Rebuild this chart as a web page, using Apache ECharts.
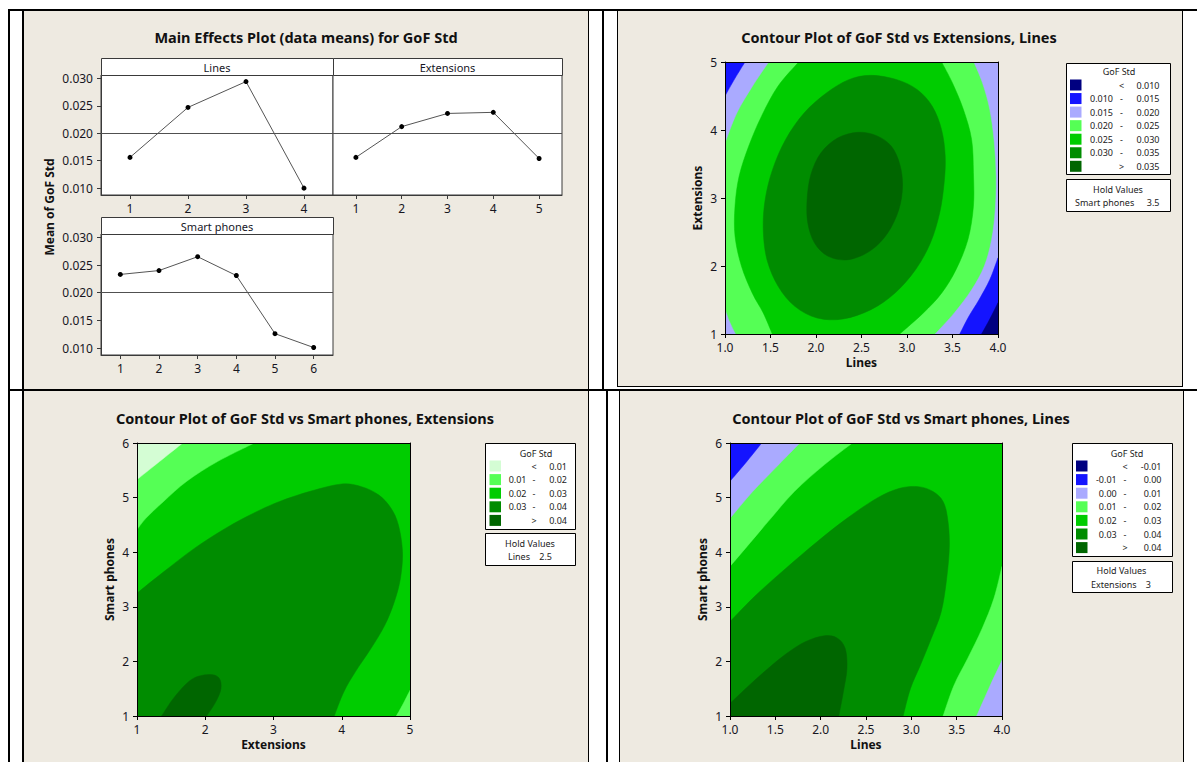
<!DOCTYPE html>
<html><head><meta charset="utf-8">
<script src="https://cdn.jsdelivr.net/npm/echarts@6/dist/echarts.min.js"></script>
<style>
html,body{margin:0;padding:0;background:#fff;}
#wrap{position:relative;width:1197px;height:762px;overflow:hidden;background:#fff;}
.b{position:absolute;background:#000;}
.p{position:absolute;background:#eeeae1;}
#chart{position:absolute;left:0;top:0;width:1197px;height:762px;}
</style></head><body>
<div id="wrap">
  <div class="p" style="left:24px;top:11px;width:564px;height:378px;"></div>
  <div class="p" style="left:618px;top:11px;width:564px;height:375px;"></div>
  <div class="p" style="left:24px;top:391px;width:564px;height:371px;"></div>
  <div class="p" style="left:620px;top:391px;width:563px;height:371px;"></div>
  <div class="b" style="left:8px;top:9px;width:1189px;height:2px;"></div>
  <div class="b" style="left:8px;top:9px;width:2px;height:753px;"></div>
  <div class="b" style="left:22px;top:9px;width:2px;height:753px;"></div>
  <div class="b" style="left:588px;top:11px;width:1px;height:378px;"></div>
  <div class="b" style="left:602px;top:11px;width:2px;height:378px;"></div>
  <div class="b" style="left:617px;top:11px;width:1px;height:376px;"></div>
  <div class="b" style="left:1182px;top:11px;width:1px;height:376px;"></div>
  <div class="b" style="left:617px;top:386px;width:566px;height:1px;"></div>
  <div class="b" style="left:8px;top:389px;width:1189px;height:2px;"></div>
  <div class="b" style="left:588px;top:391px;width:1px;height:371px;"></div>
  <div class="b" style="left:606px;top:391px;width:2px;height:371px;"></div>
  <div class="b" style="left:619px;top:391px;width:1px;height:371px;"></div>
  <div class="b" style="left:1183px;top:391px;width:1px;height:371px;"></div>
  <div id="chart"></div>
</div>
<script>
// ---------------- Main effects data ----------------
const LINES_LEVELS = ['1', '2', '3', '4'];
const LINES_MEANS = [0.0156, 0.0247, 0.0294, 0.0100];
const EXT_LEVELS = ['1', '2', '3', '4', '5'];
const EXT_MEANS = [0.0156, 0.0212, 0.0236, 0.0238, 0.0154];
const SP_LEVELS = ['1', '2', '3', '4', '5', '6'];
const SP_MEANS = [0.0233, 0.0240, 0.0265, 0.0231, 0.0126, 0.0101];
const GRAND_MEAN = 0.0199;
const MEAN_TICKS = [0.010, 0.015, 0.020, 0.025, 0.030];
const MEAN_RANGE = [0.00875, 0.0306];

// ---------------- Contour 1: Extensions vs Lines (Smart phones = 3.5) ----------------
const C1_X_RANGE = [1, 4];
const C1_Y_RANGE = [1, 5];
const C1_LEGEND = [['', '<', '0.010'], ['0.010', '-', '0.015'], ['0.015', '-', '0.020'], ['0.020', '-', '0.025'], ['0.025', '-', '0.030'], ['0.030', '-', '0.035'], ['', '>', '0.035']];
const C1_HOLD = ['Smart phones', '3.5'];
const C1_LAV_TL = [[1.48, 5], [1.30, 4.64], [1.13, 4.25], [1, 3.81]];
const C1_BLUE_TL = [[1.22, 5], [1.11, 4.76], [1, 4.50]];
const C1_LAV_BL = [[1, 1.36], [1.05, 1.18], [1.114, 1]];
const C1_LAV_R = [[3.735, 5], [3.83, 4.69], [3.91, 4.30], [3.96, 3.81], [3.98, 3.32], [3.97, 2.83], [3.93, 2.39], [3.85, 2.00], [3.71, 1.65], [3.52, 1.31], [3.31, 1]];
const C1_BLUE_BR = [[4, 2.12], [3.91, 1.80], [3.79, 1.50], [3.68, 1.26], [3.58, 1]];
const C1_NAVY_BR = [[4, 1.46], [3.91, 1.22], [3.82, 1]];
const C1_G25_L = [[1.81, 5], [1.58, 4.64], [1.40, 4.20], [1.26, 3.76], [1.155, 3.32], [1.11, 2.88], [1.11, 2.44], [1.18, 2.00], [1.30, 1.60], [1.42, 1.31], [1.52, 1]];
const C1_G25_R = [[2.92, 1], [3.18, 1.31], [3.38, 1.60], [3.54, 1.95], [3.67, 2.39], [3.73, 2.88], [3.73, 3.37], [3.71, 3.86], [3.62, 4.30], [3.50, 4.69], [3.38, 5]];
const C1_G30 = [[2.604, 4.804], [2.890, 4.740], [3.114, 4.593], [3.278, 4.348], [3.380, 4.005], [3.420, 3.613], [3.408, 3.221], [3.359, 2.779], [3.257, 2.338], [3.094, 1.946], [2.869, 1.603], [2.604, 1.358], [2.298, 1.221], [2.012, 1.235], [1.767, 1.407], [1.584, 1.701], [1.461, 2.093], [1.420, 2.534], [1.441, 2.975], [1.522, 3.417], [1.665, 3.858], [1.869, 4.250], [2.114, 4.544], [2.359, 4.740]];
const C1_G35 = [[2.461, 3.966], [2.665, 3.917], [2.829, 3.760], [2.922, 3.490], [2.951, 3.172], [2.910, 2.828], [2.788, 2.485], [2.604, 2.230], [2.359, 2.093], [2.135, 2.142], [1.984, 2.338], [1.910, 2.632], [1.902, 2.975], [1.943, 3.343], [2.053, 3.662], [2.237, 3.882]];

// ---------------- Contour 2: Smart phones vs Extensions (Lines = 2.5) ----------------
const C2_X_RANGE = [1, 5];
const C2_Y_RANGE = [1, 6];
const C2_LEGEND = [['', '<', '0.01'], ['0.01', '-', '0.02'], ['0.02', '-', '0.03'], ['0.03', '-', '0.04'], ['', '>', '0.04']];
const C2_HOLD = ['Lines', '2.5'];
const C2_G10_TL = [[2.72, 6], [2.18, 5.66], [1.73, 5.30], [1.39, 4.93], [1.13, 4.62], [1, 4.41]];
const C2_G10_BR = [[5, 1.47], [4.89, 1.20], [4.80, 1]];
const C2_G00_TL = [[1.67, 6], [1.33, 5.66], [1, 5.33]];
const C2_G30 = [[1, 3.25], [1.39, 3.64], [1.84, 4.07], [2.30, 4.44], [2.70, 4.71], [3.09, 4.93], [3.55, 5.12], [4.00, 5.25], [4.29, 5.20], [4.54, 5.05], [4.72, 4.81], [4.83, 4.50], [4.89, 4.01], [4.86, 3.52], [4.77, 3.09], [4.63, 2.66], [4.43, 2.24], [4.20, 1.81], [4.03, 1.44], [3.89, 1]];
const C2_G40 = [[1.36, 1], [1.55, 1.35], [1.80, 1.67], [2.05, 1.76], [2.20, 1.70], [2.23, 1.50], [2.15, 1.25], [2.02, 1]];

// ---------------- Contour 3: Smart phones vs Lines (Extensions = 3) ----------------
const C3_X_RANGE = [1, 4];
const C3_Y_RANGE = [1, 6];
const C3_LEGEND = [['', '<', '-0.01'], ['-0.01', '-', '0.00'], ['0.00', '-', '0.01'], ['0.01', '-', '0.02'], ['0.02', '-', '0.03'], ['0.03', '-', '0.04'], ['', '>', '0.04']];
const C3_HOLD = ['Extensions', '3'];
const C3_G10_TL = [[2.35, 6], [2.04, 5.60], [1.71, 5.11], [1.42, 4.56], [1.17, 4.07], [1, 3.74]];
const C3_G00_TL = [[1.77, 6], [1.50, 5.54], [1.25, 5.11], [1, 4.62]];
const C3_GM1_TL = [[1.35, 6], [1.17, 5.63], [1, 5.30]];
const C3_G10_BR = [[4, 3.74], [3.91, 3.15], [3.78, 2.60], [3.62, 2.05], [3.47, 1.56], [3.35, 1]];
const C3_G00_BR = [[4, 2.02], [3.87, 1.56], [3.72, 1]];
const C3_G30 = [[1, 2.73], [1.29, 3.22], [1.62, 3.71], [1.96, 4.19], [2.29, 4.62], [2.62, 4.99], [2.87, 5.17], [3.08, 5.20], [3.24, 5.11], [3.35, 4.93], [3.40, 4.62], [3.42, 4.13], [3.39, 3.52], [3.33, 2.91], [3.22, 2.42], [3.10, 1.93], [2.99, 1.50], [2.91, 1]];
const C3_G40 = [[1, 1.23], [1.21, 1.56], [1.42, 1.87], [1.62, 2.14], [1.83, 2.36], [2.04, 2.47], [2.18, 2.43], [2.27, 2.24], [2.29, 1.87], [2.25, 1.44], [2.20, 1]];

// ---------------- styles ----------------
const FONT = '"Noto Sans", "DejaVu Sans", sans-serif';
const TXT = '#16161f';
const FRAME = '#3a3a3a';
const COL7 = ['#000080', '#1414ff', '#aaaaff', '#55ff55', '#00cc00', '#008c00', '#006600'];
const COL5 = ['#d4fdd4', '#55ff55', '#00cc00', '#008c00', '#006600'];

function corners(xr, yr) { return [[[xr[0], yr[0]]], [[xr[1], yr[0]]], [[xr[1], yr[1]]], [[xr[0], yr[1]]]]; }

const C1_REGIONS = [
  { lv: 3, parts: corners(C1_X_RANGE, C1_Y_RANGE) },
  { lv: 2, parts: [C1_LAV_TL, [[C1_X_RANGE[0], C1_Y_RANGE[1]]]] },
  { lv: 2, parts: [C1_LAV_BL, [[C1_X_RANGE[0], C1_Y_RANGE[0]]]] },
  { lv: 2, parts: [C1_LAV_R, [[C1_X_RANGE[1], C1_Y_RANGE[0]]], [[C1_X_RANGE[1], C1_Y_RANGE[1]]]] },
  { lv: 1, parts: [C1_BLUE_TL, [[C1_X_RANGE[0], C1_Y_RANGE[1]]]] },
  { lv: 1, parts: [C1_BLUE_BR, [[C1_X_RANGE[1], C1_Y_RANGE[0]]]] },
  { lv: 0, parts: [C1_NAVY_BR, [[C1_X_RANGE[1], C1_Y_RANGE[0]]]] },
  { lv: 4, parts: [C1_G25_L, C1_G25_R] },
  { lv: 5, closed: true, parts: [C1_G30] },
  { lv: 6, closed: true, parts: [C1_G35] }
];
const C2_REGIONS = [
  { lv: 2, parts: corners(C2_X_RANGE, C2_Y_RANGE) },
  { lv: 1, parts: [C2_G10_TL, [[C2_X_RANGE[0], C2_Y_RANGE[1]]]] },
  { lv: 1, parts: [C2_G10_BR, [[C2_X_RANGE[1], C2_Y_RANGE[0]]]] },
  { lv: 0, parts: [C2_G00_TL, [[C2_X_RANGE[0], C2_Y_RANGE[1]]]] },
  { lv: 3, parts: [C2_G30, [[C2_X_RANGE[0], C2_Y_RANGE[0]]]] },
  { lv: 4, parts: [C2_G40] }
];
const C3_REGIONS = [
  { lv: 4, parts: corners(C3_X_RANGE, C3_Y_RANGE) },
  { lv: 3, parts: [C3_G10_TL, [[C3_X_RANGE[0], C3_Y_RANGE[1]]]] },
  { lv: 2, parts: [C3_G00_TL, [[C3_X_RANGE[0], C3_Y_RANGE[1]]]] },
  { lv: 1, parts: [C3_GM1_TL, [[C3_X_RANGE[0], C3_Y_RANGE[1]]]] },
  { lv: 3, parts: [C3_G10_BR, [[C3_X_RANGE[1], C3_Y_RANGE[0]]]] },
  { lv: 2, parts: [C3_G00_BR, [[C3_X_RANGE[1], C3_Y_RANGE[0]]]] },
  { lv: 5, parts: [C3_G30, [[C3_X_RANGE[0], C3_Y_RANGE[0]]]] },
  { lv: 6, parts: [C3_G40, [[C3_X_RANGE[0], C3_Y_RANGE[0]]]] }
];

// Catmull-Rom smoothing in pixel space
function smoothOpen(px) {
  let d = '';
  const n = px.length;
  for (let i = 0; i < n - 1; i++) {
    const p0 = px[Math.max(i - 1, 0)], p1 = px[i], p2 = px[i + 1], p3 = px[Math.min(i + 2, n - 1)];
    const c1 = [p1[0] + (p2[0] - p0[0]) / 6, p1[1] + (p2[1] - p0[1]) / 6];
    const c2 = [p2[0] - (p3[0] - p1[0]) / 6, p2[1] - (p3[1] - p1[1]) / 6];
    d += 'C' + c1[0] + ' ' + c1[1] + ' ' + c2[0] + ' ' + c2[1] + ' ' + p2[0] + ' ' + p2[1] + ' ';
  }
  return d;
}
function smoothClosed(px) {
  const n = px.length;
  let d = 'M' + px[0][0] + ' ' + px[0][1] + ' ';
  for (let i = 0; i < n; i++) {
    const p0 = px[(i - 1 + n) % n], p1 = px[i], p2 = px[(i + 1) % n], p3 = px[(i + 2) % n];
    const c1 = [p1[0] + (p2[0] - p0[0]) / 6, p1[1] + (p2[1] - p0[1]) / 6];
    const c2 = [p2[0] - (p3[0] - p1[0]) / 6, p2[1] - (p3[1] - p1[1]) / 6];
    d += 'C' + c1[0] + ' ' + c1[1] + ' ' + c2[0] + ' ' + c2[1] + ' ' + p2[0] + ' ' + p2[1] + ' ';
  }
  return d + 'Z';
}
function makeRenderer(regions, colors) {
  return function (params, api) {
    const r = regions[params.dataIndex];
    let d = '';
    if (r.closed) {
      d = smoothClosed(r.parts[0].map(p => api.coord(p)));
    } else {
      r.parts.forEach((part, k) => {
        const px = part.map(p => api.coord(p));
        d += (k === 0 ? 'M' : 'L') + px[0][0] + ' ' + px[0][1] + ' ';
        if (px.length > 1) d += smoothOpen(px);
      });
      d += 'Z';
    }
    return { type: 'path', shape: { pathData: d }, style: { fill: colors[r.lv], stroke: colors[r.lv], lineWidth: 0.5 } };
  };
}

// ---------------- axes ----------------
function meX(grid, data) {
  return {
    type: 'category', gridIndex: grid, data: data, boundaryGap: true,
    axisLine: { show: true, lineStyle: { color: FRAME, width: 1 } },
    axisTick: { show: true, alignWithLabel: true, inside: false, length: 4, lineStyle: { color: FRAME } },
    axisLabel: { color: TXT, fontSize: 12, fontFamily: FONT, margin: 7 },
    splitLine: { show: false }
  };
}
function meY(grid, show) {
  return {
    type: 'value', gridIndex: grid, min: MEAN_RANGE[0], max: MEAN_RANGE[1], show: show,
    axisLine: { show: true, lineStyle: { color: FRAME } },
    axisTick: { show: true, length: 4, customValues: MEAN_TICKS, lineStyle: { color: FRAME } },
    axisLabel: { show: true, customValues: MEAN_TICKS, formatter: v => v.toFixed(3), color: TXT, fontSize: 12, fontFamily: FONT, margin: 8 },
    splitLine: { show: false }
  };
}
function cX(grid, range, interval, dec, name) {
  return [{
    type: 'value', gridIndex: grid, min: range[0], max: range[1], interval: interval, position: 'bottom', z: 10,
    axisLine: { show: true, onZero: false, lineStyle: { color: '#000' } },
    axisTick: { show: true, length: 4, lineStyle: { color: '#000' } },
    axisLabel: { formatter: v => v.toFixed(dec), color: TXT, fontSize: 12, fontFamily: FONT, margin: 7 },
    splitLine: { show: false },
    name: name, nameLocation: 'middle', nameGap: 22,
    nameTextStyle: { fontWeight: 'bold', fontSize: 12, fontFamily: FONT, color: '#111' }
  }, {
    type: 'value', gridIndex: grid, min: range[0], max: range[1], position: 'top', z: 10,
    axisLine: { show: true, onZero: false, lineStyle: { color: '#000' } },
    axisTick: { show: false }, axisLabel: { show: false }, splitLine: { show: false }
  }];
}
function cY(grid, range, name) {
  return [{
    type: 'value', gridIndex: grid, min: range[0], max: range[1], interval: 1, position: 'left', z: 10,
    axisLine: { show: true, onZero: false, lineStyle: { color: '#000' } },
    axisTick: { show: true, length: 4, lineStyle: { color: '#000' } },
    axisLabel: { color: TXT, fontSize: 12, fontFamily: FONT, margin: 8 },
    splitLine: { show: false },
    name: name, nameLocation: 'middle', nameGap: 22,
    nameTextStyle: { fontWeight: 'bold', fontSize: 12, fontFamily: FONT, color: '#111' }
  }, {
    type: 'value', gridIndex: grid, min: range[0], max: range[1], position: 'right', z: 10,
    axisLine: { show: true, onZero: false, lineStyle: { color: '#000' } },
    axisTick: { show: false }, axisLabel: { show: false }, splitLine: { show: false }
  }];
}

function meSeries(idx, data) {
  return {
    type: 'line', xAxisIndex: idx, yAxisIndex: idx, data: data,
    symbol: 'circle', symbolSize: 5, itemStyle: { color: '#000' },
    lineStyle: { color: '#555', width: 1 }, animation: false, silent: true,
    markLine: { silent: true, symbol: 'none', label: { show: false }, animation: false,
      lineStyle: { color: '#505050', width: 1, type: 'solid' }, data: [{ yAxis: GRAND_MEAN }] }
  };
}
function contourSeries(xi, yi, regions, colors) {
  return {
    type: 'custom', xAxisIndex: xi, yAxisIndex: yi, clip: true, silent: true, animation: false,
    renderItem: makeRenderer(regions, colors),
    data: regions.map(r => r.parts[0][0]), encode: { x: 0, y: 1 }
  };
}

// ---------------- graphics ----------------
function txt(x, y, text, opt) {
  opt = opt || {};
  return { type: 'text', x: x, y: y, rotation: opt.rot || 0, z: 20, silent: true,
    style: { text: text, fill: opt.color || TXT, fontSize: opt.size || 9, fontWeight: opt.bold ? 'bold' : 'normal',
      fontFamily: FONT, align: opt.align || 'center', verticalAlign: 'middle' } };
}
function box(x, y, w, h, fill, stroke) {
  return { type: 'rect', z: 15, silent: true, shape: { x: x + 0.5, y: y + 0.5, width: w, height: h },
    style: { fill: fill, stroke: stroke, lineWidth: 1 } };
}
function legend(L, labels, colors, hold) {
  const g = [];
  g.push(box(L.x, L.y, L.w, L.h, '#fff', '#000'));
  g.push(txt(L.tx, L.ty, 'GoF Std', { color: '#222' }));
  labels.forEach((row, i) => {
    const cy = L.r0 + i * L.dr;
    g.push({ type: 'rect', z: 16, silent: true, shape: { x: L.sx, y: cy - L.sh / 2, width: L.sw, height: L.sh }, style: { fill: colors[i] } });
    if (row[0]) g.push(txt(L.c1, cy, row[0], { align: 'right', color: '#222' }));
    g.push(txt(L.cd, cy, row[1], { color: '#222' }));
    g.push(txt(L.c2, cy, row[2], { align: 'right', color: '#222' }));
  });
  g.push(box(L.x, L.hy, L.w, L.hh, '#fff', '#000'));
  g.push(txt(L.htx, L.hty, 'Hold Values', { color: '#222' }));
  g.push(txt(L.hnx, L.hly, hold[0], { align: 'left', color: '#222' }));
  g.push(txt(L.hvx, L.hly, hold[1], { align: 'right', color: '#222' }));
  return g;
}

const graphics = [].concat(
  [
    txt(306, 37, 'Main Effects Plot (data means) for GoF Std', { size: 14.5, bold: true, color: '#111' }),
    txt(899, 37, 'Contour Plot of GoF Std vs Extensions, Lines', { size: 14.5, bold: true, color: '#111' }),
    txt(305, 418, 'Contour Plot of GoF Std vs Smart phones, Extensions', { size: 14.5, bold: true, color: '#111' }),
    txt(901, 418, 'Contour Plot of GoF Std vs Smart phones, Lines', { size: 14.5, bold: true, color: '#111' }),
    txt(49, 207, 'Mean of GoF Std', { size: 12, bold: true, color: '#111', rot: Math.PI / 2 }),
    box(101, 58, 232, 17, '#fff', FRAME),
    box(333, 58, 229, 17, '#fff', FRAME),
    box(101, 217, 232, 17, '#fff', FRAME),
    txt(217, 67, 'Lines', { size: 11 }),
    txt(447.5, 67, 'Extensions', { size: 11 }),
    txt(217, 226, 'Smart phones', { size: 11 })
  ],
  legend({ x: 1066, y: 63, w: 104, h: 111, tx: 1119, ty: 71, r0: 85, dr: 13.55, sx: 1070, sw: 11.5, sh: 11, c1: 1113, cd: 1121.5, c2: 1159.5,
    hy: 179, hh: 32, htx: 1118, hty: 189.5, hly: 202.5, hnx: 1075, hvx: 1159.5 }, C1_LEGEND, COL7, C1_HOLD),
  legend({ x: 485, y: 443, w: 90, h: 86, tx: 536, ty: 453, r0: 466, dr: 13.6, sx: 489.5, sw: 11.5, sh: 11, c1: 526.5, cd: 534, c2: 567,
    hy: 533, hh: 32, htx: 530, hty: 543, hly: 556.5, hnx: 508, hvx: 552 }, C2_LEGEND, COL5, C2_HOLD),
  legend({ x: 1072, y: 443, w: 100, h: 113, tx: 1127, ty: 453, r0: 466, dr: 13.6, sx: 1076, sw: 11.5, sh: 11, c1: 1116.7, cd: 1125, c2: 1161.5,
    hy: 561, hh: 31, htx: 1121.5, hty: 570.5, hly: 584, hnx: 1091, hvx: 1151 }, C3_LEGEND, COL7, C3_HOLD)
);

const c1x = cX(3, C1_X_RANGE, 0.5, 1, 'Lines');
const c1y = cY(3, C1_Y_RANGE, 'Extensions');
const c2x = cX(4, C2_X_RANGE, 1, 0, 'Extensions');
const c2y = cY(4, C2_Y_RANGE, 'Smart phones');
const c3x = cX(5, C3_X_RANGE, 0.5, 1, 'Lines');
const c3y = cY(5, C3_Y_RANGE, 'Smart phones');

const option = {
  backgroundColor: 'transparent',
  animation: false,
  textStyle: { fontFamily: FONT },
  grid: [
    { left: 101, top: 75, width: 232, height: 120, show: true, backgroundColor: '#fff', borderColor: FRAME, borderWidth: 1 },
    { left: 333, top: 75, width: 229, height: 120, show: true, backgroundColor: '#fff', borderColor: FRAME, borderWidth: 1 },
    { left: 101, top: 234, width: 232, height: 121, show: true, backgroundColor: '#fff', borderColor: FRAME, borderWidth: 1 },
    { left: 725, top: 62, width: 273, height: 272, show: false },
    { left: 137, top: 443, width: 273, height: 273, show: false },
    { left: 730, top: 443, width: 272, height: 273, show: false }
  ],
  xAxis: [meX(0, LINES_LEVELS), meX(1, EXT_LEVELS), meX(2, SP_LEVELS)].concat(c1x, c2x, c3x),
  yAxis: [meY(0, true), meY(1, false), meY(2, true)].concat(c1y, c2y, c3y),
  series: [
    meSeries(0, LINES_MEANS),
    meSeries(1, EXT_MEANS),
    meSeries(2, SP_MEANS),
    contourSeries(3, 3, C1_REGIONS, COL7),
    contourSeries(5, 5, C2_REGIONS, COL5),
    contourSeries(7, 7, C3_REGIONS, COL7)
  ],
  graphic: graphics
};

const chart = echarts.init(document.getElementById('chart'), null, { renderer: 'svg', width: 1197, height: 762 });
chart.setOption(option);
</script>
</body></html>
